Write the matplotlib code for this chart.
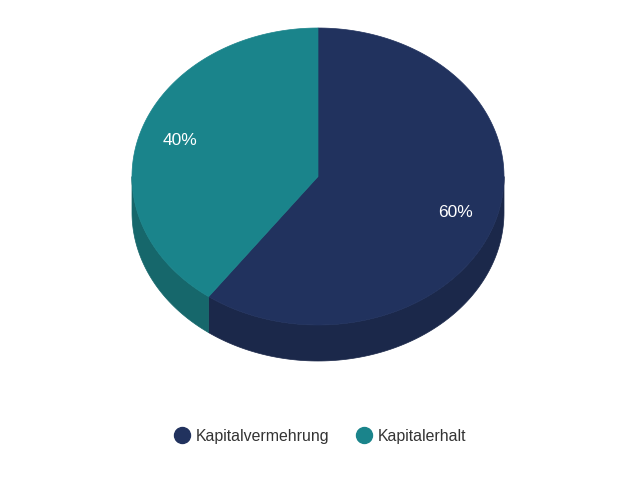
import numpy as np
import matplotlib.pyplot as plt
from matplotlib.patches import Polygon
from matplotlib.lines import Line2D

labels = ["Kapitalvermehrung", "Kapitalerhalt"]
values = [60, 40]
top_colors = ["#21325e", "#1a848b"]
side_colors = ["#1b284a", "#16676b"]

# pie geometry in pixels (y down)
cx, cy = 318, 176.5
rx, ry = 186, 148.5
depth = 36


def pt(theta_deg, dy=0.0):
    t = np.radians(theta_deg)
    return cx + rx * np.cos(t), cy - ry * np.sin(t) + dy


fig = plt.figure(figsize=(6.4, 4.8), dpi=100)
ax = fig.add_axes([0, 0, 1, 1])
ax.set_xlim(0, 640)
ax.set_ylim(480, 0)
ax.axis("off")

fracs = np.array(values) / sum(values)
starts = []
start = 90.0
for f in fracs:
    starts.append((start, start - f * 360))  # clockwise
    start -= f * 360

# sides (only front half, theta in [180, 360])
for (a, b), col in zip(starts, side_colors):
    lo, hi = min(a, b), max(a, b)
    for shift in (-360, 0, 360):
        l, h = lo + shift, hi + shift
        s0, s1 = max(l, 180), min(h, 360)
        if s1 > s0:
            th = np.linspace(s0, s1, 120)
            upper = [pt(t) for t in th]
            lower = [pt(t, depth) for t in th[::-1]]
            ax.add_patch(Polygon(upper + lower, closed=True, fc=col, ec=col, lw=0.5))

# top faces
for (a, b), col in zip(starts, top_colors):
    th = np.linspace(a, b, 200)
    poly = [(cx, cy)] + [pt(t) for t in th]
    ax.add_patch(Polygon(poly, closed=True, fc=col, ec=col, lw=0.5))

# percentage labels
for (a, b), v in zip(starts, values):
    mid = np.radians((a + b) / 2)
    x = cx + 0.78 * rx * np.cos(mid)
    y = cy - 0.78 * ry * np.sin(mid)
    ax.text(x, y, f"{v}%", color="white", fontsize=12.5,
            family="Liberation Sans", ha="center", va="center")

handles = [Line2D([], [], marker="o", ls="", markersize=11.5, color=c) for c in top_colors]
fig.legend(handles, labels, loc="center", bbox_to_anchor=(0.5, 1 - 436 / 480),
           ncol=2, frameon=False, handlelength=1.0, handletextpad=0.4,
           columnspacing=1.65, borderaxespad=0, borderpad=0,
           prop={"family": "Liberation Sans", "size": 11.4}, labelcolor="#333333")

fig.savefig("out.png", dpi=100)
